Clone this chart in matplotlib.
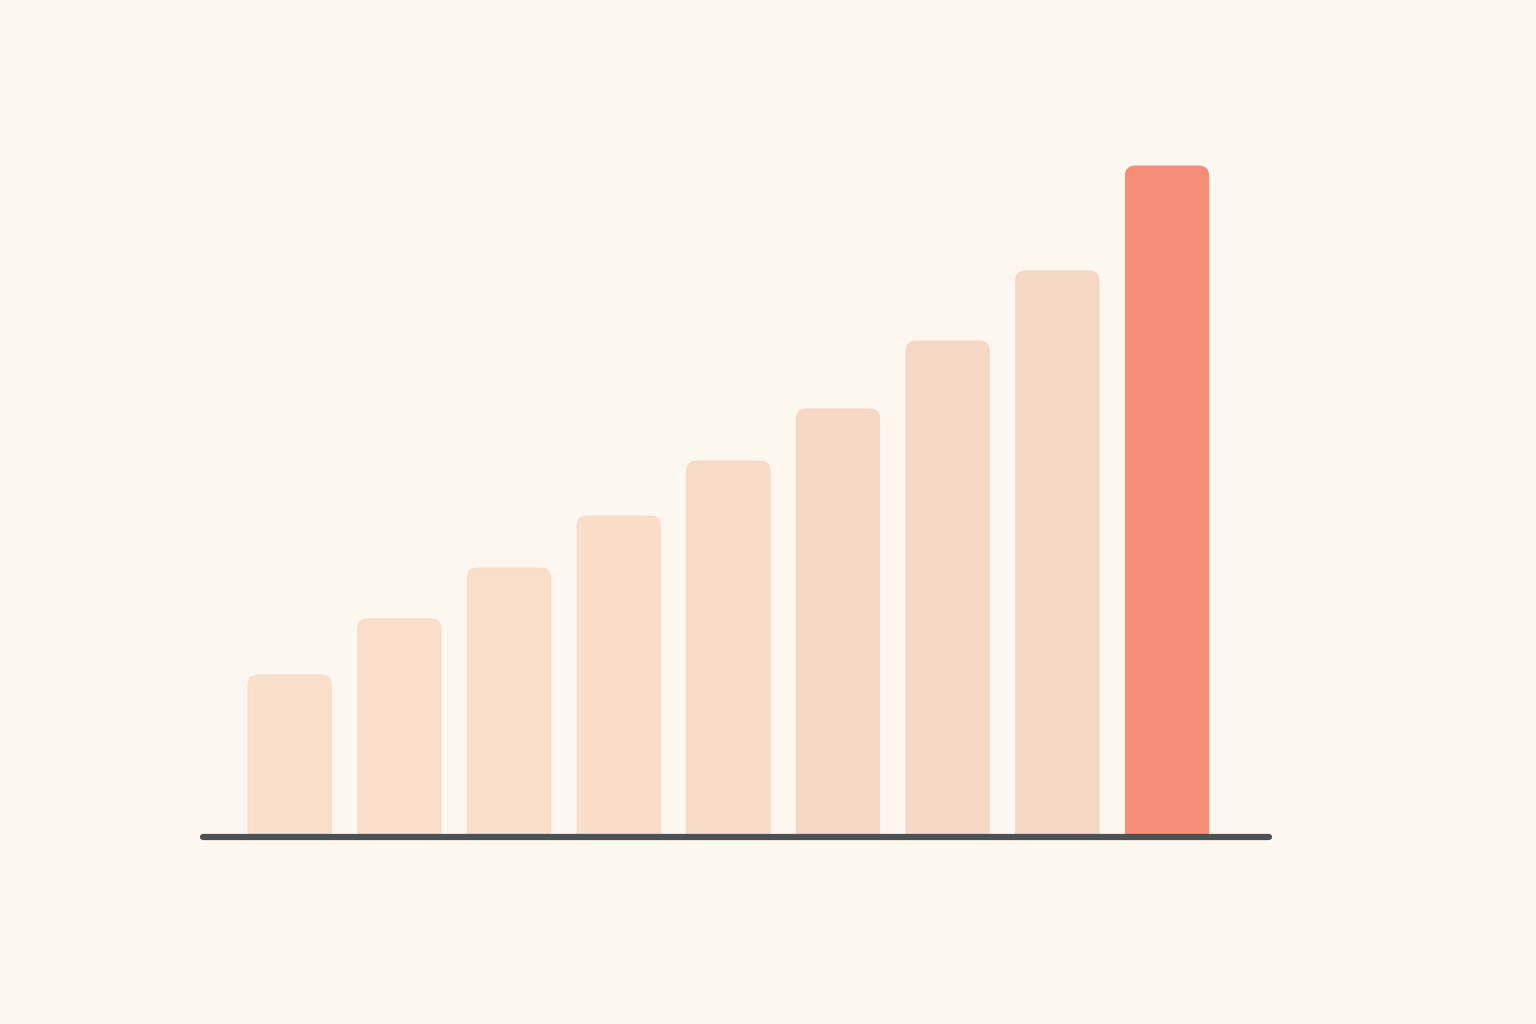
import matplotlib
matplotlib.use("Agg")
import matplotlib.pyplot as plt
from matplotlib.patches import FancyBboxPatch

categories = ["1", "2", "3", "4", "5", "6", "7", "8", "9"]
values = [161, 217, 268, 320, 375, 427, 495, 565, 670]
colors = ["#FADFCB", "#FADECA", "#F9DEC9", "#F9DDC9", "#F8DCC8", "#F6D8C5",
          "#F6D8C5", "#F5D7C4", "#F58E79"]
edges = ["#F6D9C5", "#F6D9C5", "#F5D8C4", "#F5D8C4", "#F4D6C2", "#F2D3C0",
         "#F2D3C0", "#F1D2BF", "#EE8570"]

bg = "#FEF7F0"
W, H = 1536, 1024
fig = plt.figure(figsize=(W / 100, H / 100), dpi=100, facecolor=bg)
base = 836
left, right, top = 203, 1269, 100
ax = fig.add_axes([left / W, (H - base) / H, (right - left) / W, (base - top) / H])
ax.set_facecolor(bg)

x = list(range(len(categories)))
bars = ax.bar(x, values, width=0.76, color=colors)
ax.set_xlim(-0.79, 8.93)
ax.set_ylim(0, base - top)

xunit = (right - left) / (8.93 + 0.79)
r = 10 / xunit
for b, c, e in zip(bars, colors, edges):
    bx, by, bw, bh = b.get_x(), b.get_y(), b.get_width(), b.get_height()
    b.set_visible(False)
    p = FancyBboxPatch((bx, by - 20), bw, bh + 20,
                       boxstyle=f"round,pad=0,rounding_size={r}",
                       mutation_aspect=xunit, facecolor=c, edgecolor=e,
                       linewidth=0.6, clip_on=True)
    ax.add_patch(p)

ax.axhline(-1, color="#4B5257", linewidth=4.5, solid_capstyle="round",
           clip_on=False, zorder=5)
for s in ax.spines.values():
    s.set_visible(False)
ax.set_xticks([])
ax.set_yticks([])

fig.savefig("out.png", dpi=100, facecolor=bg)
